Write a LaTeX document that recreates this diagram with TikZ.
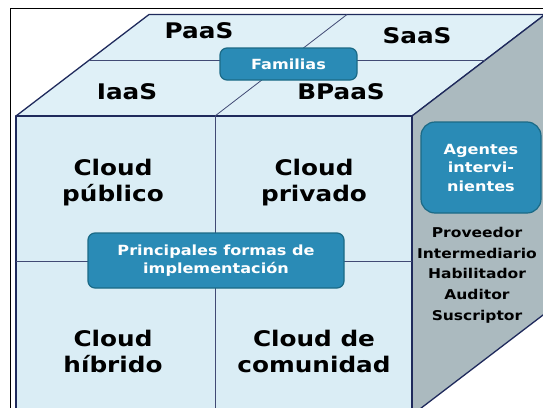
\documentclass[tikz,border=0pt]{standalone}
\usepackage{fontspec}
\setmainfont{DejaVu Sans}[FakeStretch=1.15]
\usepackage{xcolor}
\usetikzlibrary{positioning}
\usetikzlibrary{calc}

\definecolor{topface}{HTML}{DFF0F7}
\definecolor{frontface}{HTML}{DAEDF5}
\definecolor{sideface}{HTML}{ABBABF}
\definecolor{edgeblue}{HTML}{1F2A5C}
\definecolor{boxfill}{HTML}{2A8BB6}
\definecolor{boxline}{HTML}{1B6A86}

\tikzset{
  face/.style={draw=edgeblue, line width=1.3pt, line join=round},
  split/.style={draw=edgeblue!85, line width=0.8pt},
  family/.style={font=\bfseries\fontsize{21.5}{26}\selectfont, align=center, text=black},
  tag/.style={rectangle, rounded corners=7pt, draw=boxline, line width=1.2pt, fill=boxfill,
    text=white, font=\bfseries\fontsize{14}{18.5}\selectfont, align=center, inner sep=0pt},
  agent/.style={font=\bfseries\fontsize{13.5}{20.7}\selectfont, align=center, text=black}
}

\begin{document}
\begin{tikzpicture}[x=1pt, y=-1pt]

    \useasboundingbox (0,0) rectangle (543,407);
    \clip (0,0) rectangle (543,407);
    \fill[white] (0,0) rectangle (543,407);

    % Cube corners
    \coordinate (ftl) at (16,116);
    \coordinate (ftr) at (412,116);
    \coordinate (fbr) at (412,415);
    \coordinate (fbl) at (16,415);
    \coordinate (btl) at (149,14.5);
    \coordinate (btr) at (545,14.5);
    \coordinate (bbr) at (545,313.5);

    % Faces
    \filldraw[face, fill=topface] (ftl) -- (btl) -- (btr) -- (ftr) -- cycle;
    \filldraw[face, fill=sideface] (ftr) -- (btr) -- (bbr) -- (fbr) -- cycle;
    \filldraw[face, fill=frontface] (ftl) rectangle (fbr);

    % Split lines
    \draw[split] (89,60) -- (485,60);
    \draw[split] (215,116) -- (347,14.5);
    \draw[split] (215,116) -- (215,415);
    \draw[split] (16,261) -- (412,261);

    % Outer frame
    \draw[black, line width=1.2pt] (10.5,420) -- (10.5,8.5) -- (560,8.5);

    % Define nodes
    \node[family] (paas) at (199,31) {PaaS};
    \node[family] (saas) at (417,36) {SaaS};
    \node[family] (iaas) at (127,92) {IaaS};
    \node[family] (bpaas) at (341,92) {BPaaS};
    \node[tag, minimum width=137pt, minimum height=32pt] (familias) at (288.5,64) {Familias};

    \node[family] (publico) at (113,183) {Cloud\\público};
    \node[family] (privado) at (314,183) {Cloud\\privado};
    \node[family] (hibrido) at (113,351) {Cloud\\híbrido};
    \node[family] (comunidad) at (314,351) {Cloud de\\comunidad};
    \node[tag, minimum width=256pt, minimum height=55pt] (formas) at (216,260.5)
      {Principales formas de\\implementación};

    \node[tag, rounded corners=14pt, minimum width=120pt, minimum height=91pt] (agentes) at (481,167.5)
      {Agentes\\intervi-\\nientes};
    \node[agent, below=10pt of agentes.south, xshift=-4pt, anchor=north] (roles)
      {Proveedor\\Intermediario\\Habilitador\\Auditor\\Suscriptor};

\end{tikzpicture}
\end{document}
